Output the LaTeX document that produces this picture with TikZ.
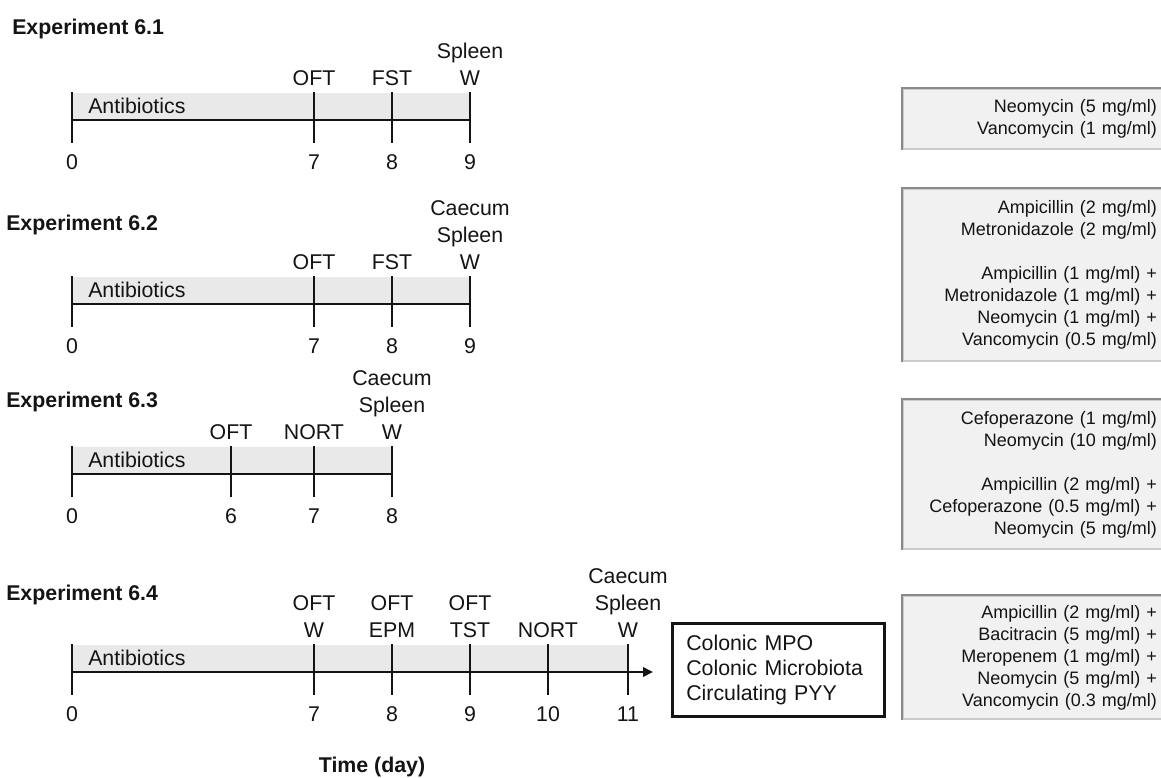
\documentclass[tikz,border=0pt]{standalone}
\usepackage{fontspec}
\setmainfont{Liberation Sans}
\usetikzlibrary{arrows.meta}
\definecolor{ink}{HTML}{141414}
\definecolor{bandbg}{HTML}{E9E9E9}
\definecolor{boxbg}{HTML}{F1F1F1}
\definecolor{edgelt}{HTML}{CCCCCC}
\definecolor{edgedk}{HTML}{8A8A8A}

\begin{document}
\begin{tikzpicture}[x=0.75pt,y=-0.75pt,
  every node/.append style={text=ink},
  ttl/.style={font=\bfseries\fontsize{16}{19}\selectfont,anchor=base west,inner sep=0pt},
  lab/.style={font=\fontsize{16}{20.25}\selectfont,align=center,anchor=south,inner sep=0pt},
  num/.style={font=\fontsize{16}{19}\selectfont,anchor=base,inner sep=0pt},
  abx/.style={font=\fontsize{16}{19}\selectfont,anchor=base west,inner sep=0pt},
  axis/.style={line width=2.1pt,draw=ink},
  band/.style={fill=bandbg},
  drug/.style={draw=edgelt,fill=boxbg,line width=1.4pt,anchor=north west,
               text width=176.25pt,inner xsep=14.25pt,inner ysep=0pt,align=right,
               font=\fontsize{13.5}{16.5}\selectfont},
  res/.style={draw=ink,line width=1.9pt,anchor=north west,minimum height=69.75pt,
              text width=138pt,inner xsep=10.5pt,align=left,
              font=\fontsize{16}{18.75}\selectfont}
]
\useasboundingbox (0,0) rectangle (1161,778);
\clip (0,0) rectangle (1161,778);

% antibiotic cocktails
\node[drug,minimum height=45pt] (d1) at (902,88)
  {Neomycin (5 mg/ml)\\Vancomycin (1 mg/ml)};
\node[drug,minimum height=129pt] (d2) at (902,188)
  {Ampicillin (2 mg/ml)\\Metronidazole (2 mg/ml)\\[16.5pt]
   Ampicillin (1 mg/ml) +\\Metronidazole (1 mg/ml) +\\Neomycin (1 mg/ml) +\\Vancomycin (0.5 mg/ml)};
\node[drug,minimum height=111.75pt] (d3) at (902,399)
  {Cefoperazone (1 mg/ml)\\Neomycin (10 mg/ml)\\[16.5pt]
   Ampicillin (2 mg/ml) +\\Cefoperazone (0.5 mg/ml) +\\Neomycin (5 mg/ml)};
\node[drug,minimum height=92.25pt] (d4) at (902,595)
  {Ampicillin (2 mg/ml) +\\Bacitracin (5 mg/ml) +\\Meropenem (1 mg/ml) +\\Neomycin (5 mg/ml) +\\Vancomycin (0.3 mg/ml)};
\foreach \b in {d1,d2,d3,d4}
  \draw[edgedk,line width=1.4pt] (\b.south west) |- (\b.north east);

% Experiment 6.1
\node[ttl] (e1) at (12,35) {Experiment 6.1};
\begin{scope}[shift={(0,120)}]
  \fill[band] (72,-27) rectangle (470,0);
  \draw[axis] (72,0) -- (470,0);
  \draw[axis] (72,-28) -- (72,23);
  \node[num] (e1n0) at (72,49.5) {0};
  \node[abx] (e1ab) at (88,-7) {Antibiotics};
  \foreach \px/\dy/\lbl in {314/7/OFT,392/8/FST,470/9/{Spleen\\W}} {
    \draw[axis] (\px,-28) -- (\px,23);
    \node[num] (e1n\dy) at (\px,49.5) {\dy};
    \node[lab] (e1l\dy) at (\px,-34.5) {\lbl};
  }
\end{scope}

% Experiment 6.2
\node[ttl] (e2) at (6,230) {Experiment 6.2};
\begin{scope}[shift={(0,304)}]
  \fill[band] (72,-27) rectangle (470,0);
  \draw[axis] (72,0) -- (470,0);
  \draw[axis] (72,-28) -- (72,23);
  \node[num] (e2n0) at (72,49.5) {0};
  \node[abx] (e2ab) at (88,-7) {Antibiotics};
  \foreach \px/\dy/\lbl in {314/7/OFT,392/8/FST,470/9/{Caecum\\Spleen\\W}} {
    \draw[axis] (\px,-28) -- (\px,23);
    \node[num] (e2n\dy) at (\px,49.5) {\dy};
    \node[lab] (e2l\dy) at (\px,-34.5) {\lbl};
  }
\end{scope}

% Experiment 6.3
\node[ttl] (e3) at (6,407) {Experiment 6.3};
\begin{scope}[shift={(0,474)}]
  \fill[band] (72,-27) rectangle (392,0);
  \draw[axis] (72,0) -- (392,0);
  \draw[axis] (72,-28) -- (72,23);
  \node[num] (e3n0) at (72,49.5) {0};
  \node[abx] (e3ab) at (88,-7) {Antibiotics};
  \foreach \px/\dy/\lbl in {231/6/OFT,314/7/NORT,392/8/{Caecum\\Spleen\\W}} {
    \draw[axis] (\px,-28) -- (\px,23);
    \node[num] (e3n\dy) at (\px,49.5) {\dy};
    \node[lab] (e3l\dy) at (\px,-34.5) {\lbl};
  }
\end{scope}

% Experiment 6.4
\node[ttl] (e4) at (6,600) {Experiment 6.4};
\node[res] (res) at (671,622) {Colonic MPO\\Colonic Microbiota\\Circulating PYY};
\begin{scope}[shift={(0,672)}]
  \coordinate (ax4) at (72,0);
  \fill[band] (72,-27) rectangle (628,0);
  \draw[axis,-{Triangle[length=7.5pt,width=7pt]},shorten >=13.5pt] (ax4) -- (res.west |- ax4);
  \draw[axis] (72,-28) -- (72,23);
  \node[num] (e4n0) at (72,49.5) {0};
  \node[abx] (e4ab) at (88,-7) {Antibiotics};
  \foreach \px/\dy/\lbl in {314/7/{OFT\\W},392/8/{OFT\\EPM},470/9/{OFT\\TST},548/10/NORT,628/11/{Caecum\\Spleen\\W}} {
    \draw[axis] (\px,-28) -- (\px,23);
    \node[num] (e4n\dy) at (\px,49.5) {\dy};
    \node[lab] (e4l\dy) at (\px,-34.5) {\lbl};
  }
\end{scope}

\node[ttl,anchor=base] (tday) at (372,772) {Time (day)};
\end{tikzpicture}
\end{document}
